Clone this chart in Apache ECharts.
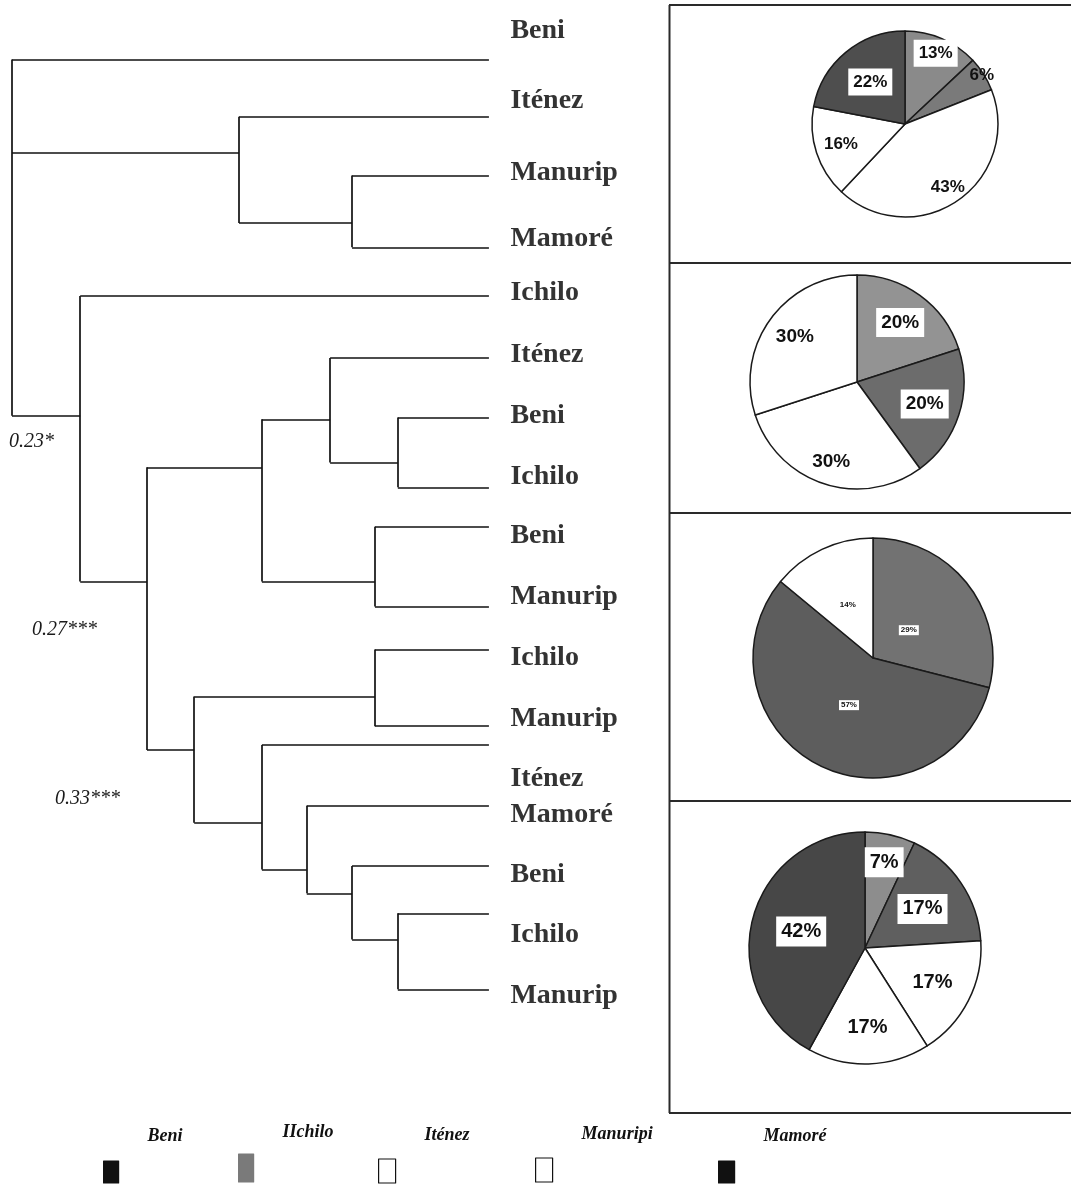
<!DOCTYPE html>
<html>
<head>
<meta charset="utf-8">
<script src="https://cdn.jsdelivr.net/npm/echarts@6/dist/echarts.min.js"></script>
<style>
  html, body { margin: 0; padding: 0; background: #fff; }
  #chart { width: 1071px; height: 1185px; }
</style>
</head>
<body>
<div id="chart"></div>
<script>
// ---------------- DATA ----------------
// dendrogram leaves (top to bottom)
const leafNames = ['Beni','Iténez','Manurip','Mamoré','Ichilo','Iténez','Beni','Ichilo','Beni','Manurip','Ichilo','Manurip','Iténez','Mamoré','Beni','Ichilo','Manurip'];
// leaf branch positions (row units) and label positions (row units)
const leafRows  = [0.48,1.42,2.39,3.57,4.37,5.39,6.37,7.52,8.17,9.48,10.19,11.45,11.76,12.76,13.75,14.53,15.78];
const labelRows = [0.00,1.16,2.34,3.43,4.32,5.34,6.34,7.34,8.32,9.32,10.32,11.32,12.32,12.91,13.89,14.89,15.89];
// internal nodes: id, height (distance), row of attachment, children (number = leaf index)
const nodeIds      = ['root','A','B','C','D','E','F','G','H','I','J','K','L','M','N'];
const nodeHeights  = [1.000,0.524,0.287,0.857,0.717,0.476,0.333,0.191,0.239,0.618,0.239,0.476,0.382,0.287,0.191];
const nodeRows     = [null,2.02,3.17,6.34,9.07,7.19,6.40,7.11,9.07,11.84,10.96,13.04,13.81,14.20,14.96];
const nodeChildren = [[0,'A','C'],[1,'B'],[2,3],[4,'D'],['E','I'],['F','H'],[5,'G'],[6,7],[8,9],['J','K'],[10,11],[12,'L'],[13,'M'],[14,'N'],[15,16]];
// node support annotations
const sigTexts = ['0.23*','0.27***','0.33***'];

// pie charts (clockwise from 12 o'clock)
const pie1Names = ['IIchilo','Mamoré','Manuripi','Iténez','Beni'];
const pie1Values = [13,6,43,16,22];
const pie2Names = ['IIchilo','Beni','Manuripi','Iténez'];
const pie2Values = [20,20,30,30];
const pie3Names = ['IIchilo','Beni','Manuripi'];
const pie3Values = [29,57,14];
const pie4Names = ['IIchilo','Mamoré','Manuripi','Iténez','Beni'];
const pie4Values = [7,17,17,17,42];

const legendNames = ['Beni','IIchilo','Iténez','Manuripi','Mamoré'];

// ---------------- STYLE ----------------
const pieStyles = [
  {center:[905,124], r:93,  colors:['#8a8a8a','#7a7a7a','#ffffff','#ffffff','#4e4e4e'], boxed:[1,0,0,0,1], ratio:[0.78,0.92,0.77,0.68,0.55], font:17},
  {center:[857,382], r:107, colors:['#939393','#6c6c6c','#ffffff','#ffffff'], boxed:[1,1,0,0], ratio:[0.65,0.63,0.74,0.68], font:19},
  {center:[873,658], r:120, colors:['#727272','#5d5d5d','#ffffff'], boxed:[1,1,0], ratio:[0.36,0.42,0.47], font:8},
  {center:[865,948], r:116, colors:['#8d8d8d','#5f5f5f','#ffffff','#ffffff','#474747'], boxed:[1,1,0,0,1], ratio:[0.72,0.57,0.62,0.65,0.54], font:20}
];
const legendStyles = [
  {left:103, top:1127, w:15, h:22, color:'#111', border:'#111'},
  {left:238, top:1123, w:15, h:28, color:'#7a7a7a', border:'#7a7a7a'},
  {left:378, top:1126, w:17, h:24, color:'#fff', border:'#111'},
  {left:535, top:1125, w:17, h:24, color:'#fff', border:'#111'},
  {left:718, top:1127, w:16, h:22, color:'#111', border:'#111'}
];
const sigStyles = [ {left:9, top:432}, {left:32, top:620}, {left:55, top:789} ];

// ---------------- BUILD ----------------
function childPos(c) {
  if (typeof c === 'number') return [0, leafRows[c]];
  const k = nodeIds.indexOf(c);
  return [nodeHeights[k], nodeRows[k]];
}
const segments = [];
nodeIds.forEach((id, i) => {
  const h = nodeHeights[i];
  const pts = nodeChildren[i].map(childPos);
  const rows = pts.map(p => p[1]);
  segments.push({coords: [[h, Math.min(...rows)], [h, Math.max(...rows)]]});
  pts.forEach(p => segments.push({coords: [[h, p[1]], [p[0], p[1]]]}));
});

const pieSets = [[pie1Names,pie1Values],[pie2Names,pie2Values],[pie3Names,pie3Values],[pie4Names,pie4Values]];
const pieSeries = pieSets.map((set, k) => {
  const st = pieStyles[k];
  return {
    type: 'pie',
    center: st.center,
    radius: st.r,
    startAngle: 90,
    clockwise: true,
    avoidLabelOverlap: false,
    silent: true,
    itemStyle: {borderColor: '#1a1a1a', borderWidth: 1.5},
    label: {
      show: true, position: 'inside', formatter: '{c}%',
      fontFamily: '"Liberation Sans", Arial, sans-serif', fontWeight: 'bold',
      fontSize: st.font, color: '#111'
    },
    labelLine: {show: false},
    labelLayout: function (p) {
      const ratio = st.ratio[p.dataIndex];
      const lx = p.labelRect.x + p.labelRect.width / 2;
      const ly = p.labelRect.y + p.labelRect.height / 2;
      const f = ratio / 0.5 - 1;
      return {dx: (lx - st.center[0]) * f, dy: (ly - st.center[1]) * f};
    },
    data: set[1].map((v, i) => ({
      name: set[0][i], value: v,
      itemStyle: {color: st.colors[i]},
      label: st.boxed[i] ? {backgroundColor: '#fff', padding: st.font > 10 ? [5, 5] : [1, 2]} : {}
    }))
  };
});

const legends = legendNames.map((n, i) => {
  const s = legendStyles[i];
  return {
    left: s.left, top: s.top, padding: 0,
    itemWidth: s.w, itemHeight: s.h,
    selectedMode: false,
    icon: 'rect',
    data: [{name: n, itemStyle: {color: s.color, borderColor: s.border, borderWidth: 1.2}}],
    formatter: name => '{n|' + name + '}\n{s| }',
    textStyle: {
      rich: {
        n: {
          fontFamily: '"Liberation Serif", "Times New Roman", serif',
          fontStyle: 'italic', fontWeight: 'bold', fontSize: 18, color: '#111',
          lineHeight: 20, padding: [0, 0, 0, 24]
        },
        s: {fontSize: 2, lineHeight: 72}
      }
    }
  };
});

const panelLines = [
  {x1:669.5, y1:5, x2:669.5, y2:1113},
  {x1:669, y1:5, x2:1071, y2:5},
  {x1:669, y1:263, x2:1071, y2:263},
  {x1:669, y1:513, x2:1071, y2:513},
  {x1:669, y1:801, x2:1071, y2:801},
  {x1:669, y1:1113, x2:1071, y2:1113}
];

const graphics = panelLines.map(l => ({
  type: 'line', shape: l, style: {stroke: '#2a2a2a', lineWidth: 2}, silent: true
})).concat(sigTexts.map((t, i) => ({
  type: 'text', left: sigStyles[i].left, top: sigStyles[i].top,
  style: {text: t, font: 'italic 20px "Liberation Serif", "Times New Roman", serif', fill: '#1a1a1a'}
})));

const chart = echarts.init(document.getElementById('chart'), null, {renderer: 'canvas'});
chart.setOption({
  animation: false,
  backgroundColor: '#ffffff',
  grid: {left: 12, top: 0, width: 620, height: 1189.5, show: false},
  xAxis: {type: 'value', inverse: true, min: -0.3, max: 1.0, show: false},
  yAxis: {type: 'value', inverse: true, min: -0.5, max: 19, show: false},
  legend: legends,
  graphic: graphics,
  series: [
    {
      type: 'lines', coordinateSystem: 'cartesian2d', polyline: false, silent: true,
      lineStyle: {color: '#111', width: 1.7, opacity: 1},
      data: segments
    },
    {
      type: 'scatter', silent: true, symbolSize: 1,
      itemStyle: {color: 'rgba(0,0,0,0)'},
      label: {
        show: true, position: 'right', distance: 21,
        formatter: p => p.data[2],
        fontFamily: '"Liberation Serif", "Times New Roman", serif',
        fontWeight: 'bold', fontSize: 28, color: '#000'
      },
      data: leafNames.map((n, i) => [0, labelRows[i], n])
    }
  ].concat(pieSeries)
});
</script>
</body>
</html>
